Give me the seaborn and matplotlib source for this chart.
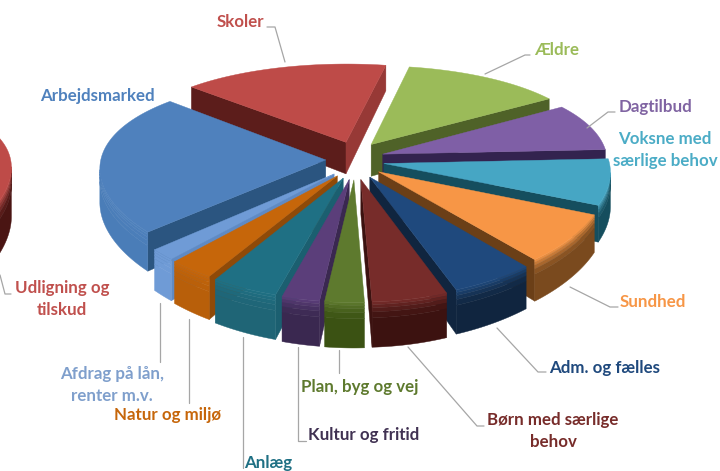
"""Exploded 3D-look pie of the municipal budget, drawn as projected polygons."""

import matplotlib.pyplot as plt
import numpy as np
import seaborn as sns

# clockwise from the top, shares of the main pie in percent
CATEGORIES = ["Ældre", "Dagtilbud", "Voksne med\nsærlige behov", "Sundhed", "Adm. og fælles",
              "Børn med særlige\nbehov", "Plan, byg og vej", "Kultur og fritid", "Anlæg",
              "Natur og miljø", "Afdrag på lån,\nrenter m.v.", "Arbejdsmarked", "Skoler"]
SHARES = [13.0, 8.5, 7.5, 7.5, 5.5, 5.0, 2.6, 2.5, 4.4, 3.0, 1.7, 23.9, 16.5]
UDLIGNING_LABEL = "Udligning og\ntilskud"
UDLIGNING_SHARE = 30.0

TOP_COLORS = ["#9BBB59", "#7F5FA6", "#46A6C4", "#F79646", "#1F497D", "#772C2A", "#5E7A2E",
              "#5B3E7A", "#1F7084", "#C6660A", "#6F9BD6", "#4F81BD", "#BE4B48"]
WALL_COLORS = ["#4F6228", "#3A2A57", "#154E5E", "#7A4A1E", "#10253F", "#3C1210", "#3B5213",
               "#3A2850", "#1F6576", "#B85F0A", "#6F9BD6", "#4A7DB8", "#A33E3B"]
CUT_COLORS = ["#4F6228", "#33234F", "#154E5E", "#6B3F17", "#10253F", "#3C1210", "#3B5213",
              "#3A2850", "#1B5F70", "#8F4A08", "#5F8AC4", "#2B5580", "#5C1D1B"]
LABEL_COLORS = ["#9BBB59", "#8064A2", "#4BACC6", "#F79646", "#1F497D", "#772C2A", "#5E7A2E",
                "#403152", "#1F7084", "#C6660A", "#7F9FCC", "#4F81BD", "#C0504D"]

LABEL_POS = [(557, 50), (655, 107), (665, 150), (653, 302), (605, 368), (553, 431), (360, 387),
             (364, 435), (268, 463), (168, 415), (112, 385), (97, 96), (240, 22)]
LEADERS = [
    [(485, 74), (525, 55), (530, 55)],
    [(587, 128), (608, 112), (615, 112)],
    [(570, 287), (610, 307), (618, 307)],
    [(497, 328), (538, 372), (546, 372)],
    [(408, 347), (477, 426), (484, 426)],
    [(339, 350), (339, 373)],
    [(298, 347), (298, 441), (306, 441)],
    [(243, 337), (243, 468)],
    [(189, 319), (189, 403)],
    [(160, 303), (160, 362)],
    [(285, 62), (275, 27), (267, 27)],
    [(0, 275), (5, 294), (11, 294)],
]

CX, CY = 355, 160
R, RK = 225, 96
PERSP_X = 0.08
PERSP_Y = 0.16
DEPTH = 33
EXPLODE = 0.2
START_ANGLE = 79
WALL_STOPS = [0.0, 0.06, 0.13, 0.22, 0.35, 1.0]


def project(u, v, z=0.0):
    sx = 1 / (1 + PERSP_X * v)
    sy = 1 / (1 + PERSP_Y * v)
    return CX + R * u * sx, CY - RK * v * sy + z * DEPTH * sy ** 1.5


def mix(c1, c2, f):
    a, b = np.array(sns.desaturate(c1, 1)), np.array(sns.desaturate(c2, 1))
    return tuple(a + (b - a) * f)


def draw_slice(ax, a_start, a_end, off_u, off_v, top, wall, cut, zorder, depth_scale=1.0):
    angles = np.radians(np.linspace(a_start, a_end, 80))
    ground = [(off_u, off_v)] + [(off_u + np.cos(t), off_v + np.sin(t)) for t in angles]
    screen = np.array([project(u, v) for u, v in ground])
    x, y = screen[:, 0], screen[:, 1]
    area = 0.5 * np.sum(x * np.roll(y, -1) - np.roll(x, -1) * y)
    n = len(ground)

    # cut faces
    for i, j in [(0, 1), (n - 1, 0)]:
        ex, ey = screen[j] - screen[i]
        if ex * np.sign(area) >= 0:
            continue
        p1, p2 = ground[i], ground[j]
        steep = abs(ey) / np.hypot(ex, ey)
        color = mix(cut, top, 0.6) if steep > 0.85 and p1[1] + p2[1] > 1 else cut
        quad = [project(*p1), project(*p2), project(*p2, depth_scale), project(*p1, depth_scale)]
        ax.fill(*zip(*quad), color=color, lw=0.3, zorder=zorder)

    # outer wall, one polygon per band along the visible part of the rim
    visible = [i for i in range(1, n - 1) if (x[i + 1] - x[i]) * np.sign(area) < 0]
    if visible:
        runs = np.split(np.array(visible), np.where(np.diff(visible) > 1)[0] + 1)
        for run in runs:
            rim = [ground[i] for i in run] + [ground[run[-1] + 1]]
            for k in range(len(WALL_STOPS) - 1):
                z0, z1 = WALL_STOPS[k] * depth_scale, WALL_STOPS[k + 1] * depth_scale
                color = mix(top, wall, min(1, (k + 0.5) / (len(WALL_STOPS) - 2)))
                band = [project(*p, z0) for p in rim] + [project(*p, z1) for p in rim[::-1]]
                ax.fill(*zip(*band), color=color, lw=0.3, zorder=zorder)

    ax.fill(x, y, color=top, lw=0.3, zorder=zorder + 0.5)


def main():
    sns.set_theme(style="white")
    plt.rcParams["font.family"] = ["Lato", "DejaVu Sans"]

    fig = plt.figure(figsize=(7.2, 4.71), dpi=100)
    ax = fig.add_axes([0, 0, 1, 1])
    ax.set_xlim(0, 720)
    ax.set_ylim(471, 0)
    ax.axis("off")

    tops = sns.color_palette(TOP_COLORS)
    walls = sns.color_palette(WALL_COLORS)
    cuts = sns.color_palette(CUT_COLORS)

    spans = np.array(SHARES) / np.sum(SHARES) * 360
    ends = START_ANGLE - np.cumsum(spans)
    starts = ends + spans
    mids = np.radians((starts + ends) / 2)

    # the far slice, pulled away to the left and cut by the image edge
    half = UDLIGNING_SHARE / 100 * 180
    draw_slice(ax, half, -half, -2.51, -0.2, "#BE4B48", "#4A1513", "#4A1513", 1, depth_scale=1.45)

    # back slices first so the front ones paint over them
    for z, i in enumerate(np.argsort(-np.sin(mids))):
        off_u = EXPLODE * 0.65 * np.cos(mids[i])
        off_v = EXPLODE * np.sin(mids[i])
        draw_slice(ax, starts[i], ends[i], off_u, off_v, tops[i], walls[i], cuts[i], 2 + z)

    for pts in LEADERS:
        ax.plot(*zip(*pts), color="#A6A6A6", lw=0.9, zorder=40)

    for name, pos, color in zip(CATEGORIES, LABEL_POS, LABEL_COLORS):
        ax.text(pos[0], pos[1], name, color=color, fontsize=12.2, fontweight="bold",
                ha="center", va="center", linespacing=1.45, zorder=50)
    ax.text(62, 299, UDLIGNING_LABEL, color="#C0504D", fontsize=12.2, fontweight="bold",
            ha="center", va="center", linespacing=1.45, zorder=50)

    fig.savefig("out.png", dpi=100)
    plt.close(fig)


if __name__ == "__main__":
    main()
